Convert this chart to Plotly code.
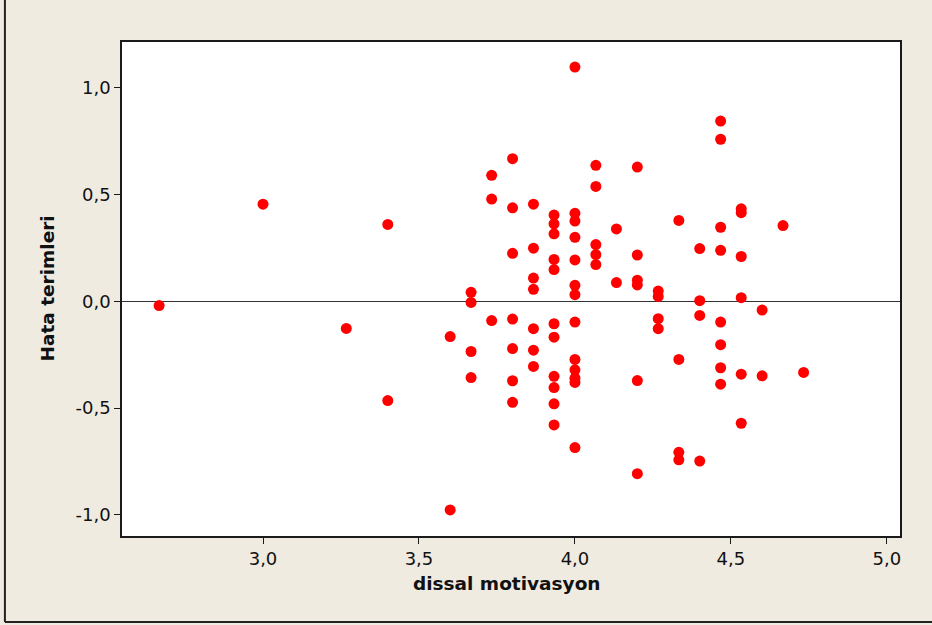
import plotly.graph_objects as go

# Residuals versus the predictor (dissal motivasyon)
x_vals = [
    2.667,
    3.0,
    3.267,
    3.4, 3.4,
    3.6, 3.6,
    3.667, 3.667, 3.667, 3.667,
    3.733, 3.733, 3.733,
    3.8, 3.8, 3.8, 3.8, 3.8, 3.8, 3.8,
    3.867, 3.867, 3.867, 3.867, 3.867, 3.867, 3.867,
    3.933, 3.933, 3.933, 3.933, 3.933, 3.933, 3.933, 3.933, 3.933, 3.933, 3.933,
    4.0, 4.0, 4.0, 4.0, 4.0, 4.0, 4.0, 4.0, 4.0, 4.0, 4.0, 4.0, 4.0,
    4.067, 4.067, 4.067, 4.067, 4.067,
    4.133, 4.133,
    4.2, 4.2, 4.2, 4.2, 4.2, 4.2,
    4.267, 4.267, 4.267, 4.267,
    4.333, 4.333, 4.333, 4.333,
    4.4, 4.4, 4.4, 4.4,
    4.467, 4.467, 4.467, 4.467, 4.467, 4.467, 4.467, 4.467,
    4.533, 4.533, 4.533, 4.533, 4.533, 4.533,
    4.6, 4.6,
    4.667,
    4.733,
]
residuals = [
    -0.020,
    0.455,
    -0.127,
    0.360, -0.465,
    -0.165, -0.977,
    0.042, -0.005, -0.235, -0.357,
    0.590, 0.479, -0.090,
    0.668, 0.438, 0.225, -0.083, -0.221, -0.372, -0.473,
    0.455, 0.249, 0.109, 0.056, -0.128, -0.229, -0.305,
    0.404, 0.363, 0.316, 0.196, 0.149, -0.105, -0.168, -0.351, -0.404, -0.480, -0.579,
    1.097, 0.412, 0.376, 0.300, 0.194, 0.075, 0.031, -0.097, -0.272, -0.321, -0.360, -0.380, -0.685,
    0.637, 0.538, 0.266, 0.219, 0.172,
    0.339, 0.088,
    0.629, 0.217, 0.099, 0.077, -0.371, -0.807,
    0.048, 0.023, -0.081, -0.128,
    0.379, -0.272, -0.707, -0.742,
    0.247, 0.003, -0.066, -0.748,
    0.844, 0.759, 0.347, 0.239, -0.097, -0.203, -0.311, -0.388,
    0.433, 0.415, 0.210, 0.017, -0.341, -0.571,
    -0.041, -0.349,
    0.355,
    -0.333,
]

x_ticks = [3.0, 3.5, 4.0, 4.5, 5.0]
x_tick_text = ["3,0", "3,5", "4,0", "4,5", "5,0"]
y_ticks = [-1.0, -0.5, 0.0, 0.5, 1.0]
y_tick_text = ["-1,0", "-0,5", "0,0", "0,5", "1,0"]

x_title = "dissal motivasyon"
y_title = "Hata terimleri"

BG = "#EFEBE1"
FONT = "DejaVu Sans, sans-serif"

fig = go.Figure(
    go.Scatter(
        x=x_vals,
        y=residuals,
        mode="markers",
        marker=dict(color="#FF0000", size=11, line=dict(width=0)),
        hoverinfo="x+y",
    )
)

axis_common = dict(
    showgrid=False,
    showline=True,
    mirror=True,
    linecolor="#1a1a1a",
    linewidth=1.5,
    ticks="outside",
    ticklen=6,
    tickwidth=1,
    tickcolor="#1a1a1a",
    tickfont=dict(family=FONT, size=18, color="#111111"),
)

title_font = dict(family=FONT, size=18.5, color="#111111", weight="bold")

fig.update_layout(
    width=932,
    height=625,
    margin=dict(l=122, r=32, t=42, b=89),
    paper_bgcolor=BG,
    plot_bgcolor="white",
    showlegend=False,
    xaxis=dict(
        range=[2.548, 5.042],
        tickvals=x_ticks,
        ticktext=x_tick_text,
        zeroline=False,
        **axis_common,
    ),
    yaxis=dict(
        range=[-1.099, 1.2145],
        tickvals=y_ticks,
        ticktext=y_tick_text,
        zeroline=True,
        zerolinecolor="#333333",
        zerolinewidth=1.2,
        **axis_common,
    ),
    annotations=[
        dict(
            text=x_title, xref="paper", yref="paper", x=0.4955, y=-0.097,
            xanchor="center", yanchor="middle", showarrow=False,
            font=title_font,
        ),
        dict(
            text=y_title, xref="paper", yref="paper", x=-0.097, y=0.5,
            xanchor="center", yanchor="middle", showarrow=False, textangle=-90,
            font=title_font,
        ),
    ],
    shapes=[
        # outer frame: left and bottom edges of the graph window
        dict(type="line", xref="paper", yref="paper", x0=-0.1505, x1=-0.1505,
             y0=-0.174, y1=1.09, line=dict(color="#222222", width=2)),
        dict(type="line", xref="paper", yref="paper", x0=-0.1505, x1=1.05,
             y0=-0.174, y1=-0.174, line=dict(color="#222222", width=2)),
    ],
)

fig.write_html("out.html")
